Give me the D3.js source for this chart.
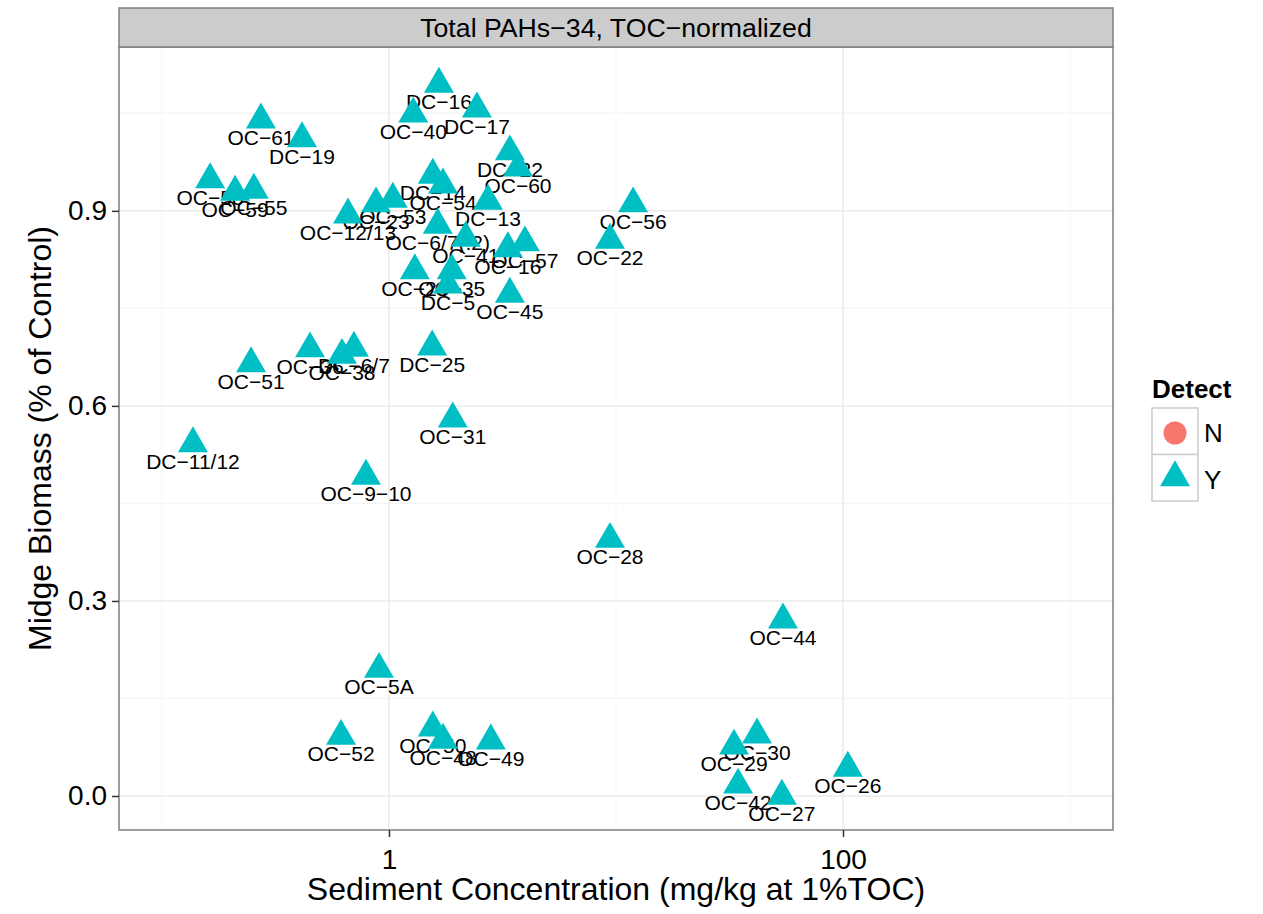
<!DOCTYPE html>
<html>
<head>
<meta charset="utf-8">
<script src="https://cdn.jsdelivr.net/npm/d3@7"></script>
<style>
  body { margin: 0; background: white; }
  svg { font-family: "Liberation Sans", Arial, sans-serif; }
</style>
</head>
<body>
<div id="chart"></div>
<script>
var sites = ["DC-16", "OC-40", "DC-17", "OC-61", "DC-19", "DC-22", "OC-60", "DC-14", "OC-54", "DC-13",
  "OC-58", "OC-59", "OC-55", "OC-12/13", "OC-23", "OC-53", "OC-6/7(.2)", "OC-41", "OC-16", "OC-57",
  "OC-45", "OC-56", "OC-22", "OC-24", "OC-35", "DC-5", "OC-51", "OC-36", "OC-38", "DC-6/7",
  "DC-25", "OC-31", "DC-11/12", "OC-9-10", "OC-28", "OC-44", "OC-5A", "OC-52", "OC-50", "OC-48",
  "OC-49", "OC-30", "OC-29", "OC-42", "OC-27", "OC-26"];
var concentration = [1.66, 1.28, 2.44, 0.273, 0.414, 3.41, 3.70, 1.56, 1.73, 2.73,
  0.163, 0.210, 0.254, 0.660, 0.877, 1.04, 1.64, 2.18, 3.34, 3.97,
  3.41, 11.9, 9.41, 1.30, 1.89, 1.82, 0.247, 0.449, 0.621, 0.701,
  1.55, 1.91, 0.137, 0.792, 9.41, 54.4, 0.904, 0.615, 1.56, 1.73,
  2.81, 41.8, 33.1, 34.5, 53.8, 105];
var biomass = [1.095, 1.049, 1.057, 1.040, 1.011, 0.991, 0.966, 0.955, 0.940, 0.915,
  0.948, 0.929, 0.932, 0.894, 0.911, 0.918, 0.878, 0.858, 0.842, 0.851,
  0.772, 0.911, 0.855, 0.808, 0.808, 0.786, 0.665, 0.688, 0.678, 0.689,
  0.691, 0.580, 0.542, 0.492, 0.395, 0.271, 0.195, 0.092, 0.105, 0.086,
  0.085, 0.094, 0.077, 0.017, 0.000, 0.043];
var detect = sites.map(function() { return "Y"; });

var detectLevels = ["N", "Y"];
var detectColors = ["#F8766D", "#00BFC4"];
var xTicks = [1, 100];
var xMinor = [0.1, 10, 1000];
var yTicks = [0, 0.3, 0.6, 0.9];
var yMinor = [0.15, 0.45, 0.75, 1.05];
var stripTitle = "Total PAHs\u221234, TOC\u2212normalized";

var panelL = 119, panelR = 1113, panelT = 47, panelB = 830;

var root = d3.select("#chart")
  .append("svg")
  .attr("width", 1263)
  .attr("height", 914);

var x = d3.scaleLog().domain([0.0647, 1546]).range([panelL, panelR]);
var y = d3.scaleLinear().domain([-0.0523, 1.152]).range([panelB, panelT]);
var color = d3.scaleOrdinal().domain(detectLevels).range(detectColors);

// panel background + grid
root.append("rect")
  .attr("x", panelL).attr("y", panelT)
  .attr("width", panelR - panelL).attr("height", panelB - panelT)
  .style("fill", "white");

root.selectAll(".xminor").data(xMinor).enter().append("line")
  .attr("x1", function(d) { return x(d); }).attr("x2", function(d) { return x(d); })
  .attr("y1", panelT).attr("y2", panelB)
  .style("stroke", "#F7F7F7").style("stroke-width", 1);
root.selectAll(".yminor").data(yMinor).enter().append("line")
  .attr("x1", panelL).attr("x2", panelR)
  .attr("y1", function(d) { return y(d); }).attr("y2", function(d) { return y(d); })
  .style("stroke", "#F5F5F5").style("stroke-width", 1.5);
root.selectAll(".xmajor").data(xTicks).enter().append("line")
  .attr("x1", function(d) { return x(d); }).attr("x2", function(d) { return x(d); })
  .attr("y1", panelT).attr("y2", panelB)
  .style("stroke", "#EBEBEB").style("stroke-width", 1.5);
root.selectAll(".ymajor").data(yTicks).enter().append("line")
  .attr("x1", panelL).attr("x2", panelR)
  .attr("y1", function(d) { return y(d); }).attr("y2", function(d) { return y(d); })
  .style("stroke", "#EBEBEB").style("stroke-width", 1.5);

var points = sites.map(function(s, i) {
  return { site: s, conc: concentration[i], bio: biomass[i], detect: detect[i] };
});

// labels sit under the markers (points drawn on top)
root.selectAll(".lab").data(points).enter().append("text")
  .attr("x", function(d) { return x(d.conc); })
  .attr("y", function(d) { return y(d.bio) + 25; })
  .style("font-size", "21px")
  .style("text-anchor", "middle")
  .style("fill", "black")
  .text(function(d) { return d.site.replace(/-/g, "\u2212"); });

var r = 17.3;
var tri = "M0," + (-r) + "L" + (r * 0.866) + "," + (r / 2) + "L" + (-r * 0.866) + "," + (r / 2) + "Z";

root.selectAll(".pt").data(points).enter().append("path")
  .attr("d", tri)
  .attr("transform", function(d) { return "translate(" + x(d.conc) + "," + y(d.bio) + ")"; })
  .style("fill", function(d) { return color(d.detect); });

// panel border
root.append("rect")
  .attr("x", panelL).attr("y", panelT)
  .attr("width", panelR - panelL).attr("height", panelB - panelT)
  .style("fill", "none").style("stroke", "#7F7F7F").style("stroke-width", 1.5);

// strip
root.append("rect")
  .attr("x", panelL).attr("y", 8)
  .attr("width", panelR - panelL).attr("height", panelT - 8)
  .style("fill", "#CCCCCC").style("stroke", "#7F7F7F").style("stroke-width", 1.5);
root.append("text")
  .attr("x", (panelL + panelR) / 2).attr("y", 37)
  .style("font-size", "26.7px").style("text-anchor", "middle")
  .text(stripTitle);

// axes
var xAxis = root.append("g")
  .attr("transform", "translate(0," + panelB + ")")
  .call(d3.axisBottom(x).tickValues(xTicks).tickFormat(d3.format("d")).tickSize(7).tickPadding(12));
var yAxis = root.append("g")
  .attr("transform", "translate(" + panelL + ",0)")
  .call(d3.axisLeft(y).tickValues(yTicks).tickFormat(d3.format(".1f")).tickSize(7).tickPadding(5));
[xAxis, yAxis].forEach(function(a) {
  a.select(".domain").remove();
  a.selectAll(".tick line").style("stroke", "#333").style("stroke-width", 1.5);
  a.selectAll(".tick text").style("font-size", "28px").style("fill", "black")
    .style("font-family", "\"Liberation Sans\", Arial, sans-serif");
});

root.append("text")
  .attr("x", (panelL + panelR) / 2).attr("y", 900)
  .style("font-size", "32px").style("text-anchor", "middle")
  .text("Sediment Concentration (mg/kg at 1%TOC)");
root.append("text")
  .attr("transform", "translate(51," + ((panelT + panelB) / 2) + ") rotate(-90)")
  .style("font-size", "32px").style("text-anchor", "middle")
  .text("Midge Biomass (% of Control)");

// legend
var legend = root.append("g").attr("transform", "translate(1152,0)");
legend.append("text")
  .attr("x", 0).attr("y", 398)
  .style("font-size", "26px").style("font-weight", "bold")
  .text("Detect");
var keys = legend.selectAll(".key").data(detectLevels).enter().append("g")
  .attr("transform", function(d, i) { return "translate(0," + (408 + i * 46.5) + ")"; });
keys.append("rect")
  .attr("width", 46).attr("height", 46.5)
  .style("fill", "white").style("stroke", "#CCCCCC").style("stroke-width", 1.5);
keys.append("path")
  .attr("d", function(d) {
    return d === "N" ? d3.symbol().type(d3.symbolCircle).size(Math.PI * 11.5 * 11.5)() : tri;
  })
  .attr("transform", function(d) { return "translate(23," + (d === "N" ? 25 : 23) + ")"; })
  .style("fill", function(d) { return color(d); });
keys.append("text")
  .attr("x", 52).attr("y", 34)
  .style("font-size", "26px")
  .text(function(d) { return d; });
</script>
</body>
</html>
